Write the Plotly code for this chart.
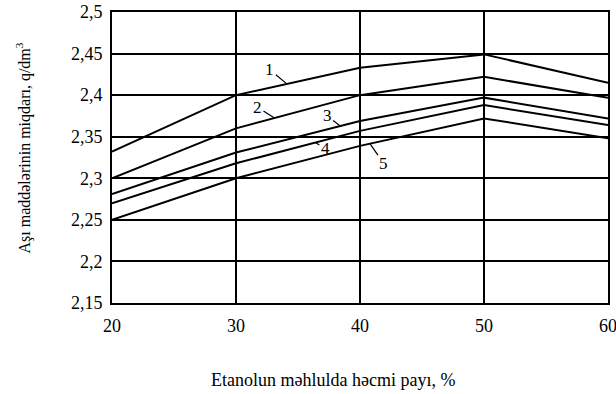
import plotly.graph_objects as go
import numpy as np

x = [20, 30, 40, 50, 60]
c1 = [2.332, 2.400, 2.433, 2.449, 2.415]
c2 = [2.300, 2.360, 2.400, 2.422, 2.397]
c3 = [2.281, 2.331, 2.369, 2.397, 2.372]
c4 = [2.270, 2.318, 2.357, 2.388, 2.364]
c5 = [2.250, 2.300, 2.339, 2.372, 2.348]
series = [c1, c2, c3, c4, c5]
names = ["1", "2", "3", "4", "5"]

yticks = [2.15, 2.2, 2.25, 2.3, 2.35, 2.4, 2.45, 2.5]
ytext = ["2,15", "2,2", "2,25", "2,3", "2,35", "2,4", "2,45", "2,5"]
xticks = [20, 30, 40, 50, 60]

# label anchor points on curves (x) and text offsets (px)
lab_x = [34.1, 33.1, 38.4, 36.4, 40.8]
lab_ax = [-17, -17, -13, 10, 14]
lab_ay = [-14, -11, -10, 6, 20]

font = '"Liberation Serif", "DejaVu Serif", serif'
fig = go.Figure()
for s, n in zip(series, names):
    fig.add_trace(go.Scatter(x=x, y=s, mode="lines", name=n,
                             line=dict(color="black", width=2), showlegend=False))

for i, n in enumerate(names):
    yv = float(np.interp(lab_x[i], x, series[i]))
    fig.add_annotation(x=lab_x[i], y=yv, text=n, showarrow=True, arrowhead=0,
                       arrowwidth=1.2, arrowcolor="black", ax=lab_ax[i], ay=lab_ay[i],
                       standoff=0, font=dict(family=font, size=17, color="black"))

# axis titles
fig.add_annotation(xref="paper", yref="paper", x=0.4456, y=0, yshift=-77,
                   xanchor="center", yanchor="middle", showarrow=False,
                   text="Etanolun məhlulda həcmi payı, %",
                   font=dict(family=font, size=18, color="black"))
fig.add_annotation(xref="paper", yref="paper", x=0, xshift=-88, y=0.5, yshift=9,
                   xanchor="center", yanchor="middle", showarrow=False, textangle=-90,
                   text="Aşı maddələrinin miqdarı, q/dm<sup>3</sup>",
                   font=dict(family=font, size=16, color="black"))

fig.update_layout(
    width=616, height=394,
    margin=dict(l=112, r=8, t=12, b=91),
    paper_bgcolor="white", plot_bgcolor="white",
    font=dict(family=font, size=18, color="black"),
)
fig.update_xaxes(range=[20, 60], tickvals=xticks, showgrid=True, gridcolor="black",
                 gridwidth=1.5, showline=True, linecolor="black", linewidth=2,
                 mirror=True, zeroline=False, ticks="", automargin=False,
                 ticklabelstandoff=5, ticklabeloverflow="allow")
fig.update_yaxes(range=[2.15, 2.5], tickvals=yticks, ticktext=ytext, showgrid=True,
                 gridcolor="black", gridwidth=1.5, showline=True, linecolor="black",
                 linewidth=2, mirror=True, zeroline=False, ticks="", automargin=False,
                 ticklabelstandoff=4, ticklabeloverflow="allow")

fig.write_html("out.html")
